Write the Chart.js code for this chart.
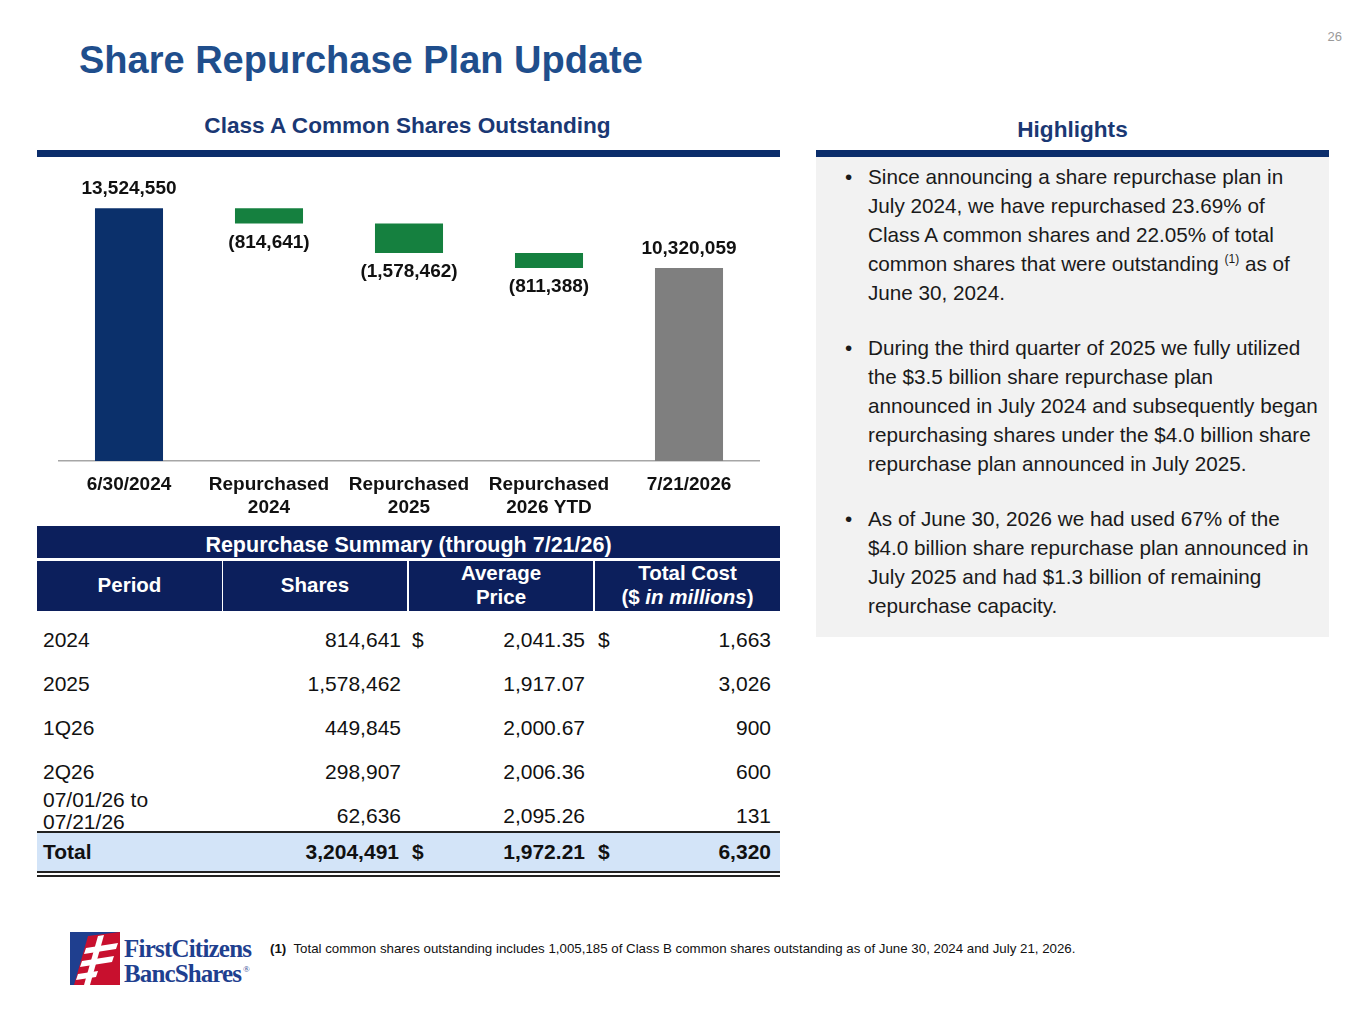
<!DOCTYPE html>
<html>
<head>
<meta charset="utf-8">
<script src="https://cdn.jsdelivr.net/npm/chart.js@4.4.1/dist/chart.umd.min.js"></script>
<style>
  body { margin: 0; background: #fff; font-family: "Liberation Sans", Arial, sans-serif; }
  #page { position: relative; width: 1365px; height: 1024px; overflow: hidden; background: #fff; }
  .abs { position: absolute; white-space: nowrap; }
  #title { left: 79px; top: 37px; font-size: 38px; font-weight: bold; color: #1f4e8c; line-height: 46px; }
  #pagenum { left: 1318px; top: 29px; width: 24px; text-align: right; font-size: 13px; color: #9a9a9a; }
  .heading { font-size: 22.6px; font-weight: bold; color: #1a3874; text-align: center; line-height: 28px; }
  .rule { height: 7px; background: #0b2d6b; }
  #chartBox { left: 37px; top: 160px; width: 743px; height: 371px; }
  #hlBox { left: 816px; top: 157px; width: 513px; height: 480px; background: #f2f2f2; }
  .bullet { font-size: 20.7px; color: #1a1a1a; line-height: 29px; }
  .bullet sup { font-size: 12px; line-height: 0; vertical-align: baseline; position: relative; top: -8px; }
  .hdr { background: #0c1f5c; color: #fff; font-weight: bold; text-align: center; display: flex; align-items: center; justify-content: center; }
  .cell { font-size: 21px; color: #111; line-height: 22px; }
  #footnote { left: 270px; top: 941px; font-size: 13.3px; color: #111; }
</style>
</head>
<body>
<div id="page">
  <div class="abs" id="title">Share Repurchase Plan Update</div>
  <div class="abs" id="pagenum">26</div>

  <div class="abs heading" style="left:36px; top:112px; width:743px;">Class A Common Shares Outstanding</div>
  <div class="abs rule" style="left:37px; top:150px; width:743px;"></div>
  <div class="abs" id="chartBox"><canvas id="chart"></canvas></div>

  <div class="abs heading" style="left:816px; top:116px; width:513px;">Highlights</div>
  <div class="abs" id="hlBox"></div>
  <div class="abs rule" style="left:816px; top:150px; width:513px;"></div>
  <div id="bullets"></div>

  <div id="table"></div>

  <svg class="abs" style="left:68px; top:928px;" width="190" height="60" viewBox="0 0 190 60">
    <rect x="2" y="4" width="50" height="53" fill="#1f3f8f"/>
    <polygon points="6,57 20,8 52,4 52,57" fill="#c8102e"/>
    <polygon points="18,20 50,15 48,21 16,26" fill="#fff"/>
    <polygon points="14,33 46,28 44,34 12,39" fill="#fff"/>
    <polygon points="10,46 30,43 28,49 8,52" fill="#fff"/>
    <polygon points="30,8 36,7 22,57 16,57" fill="#fff"/>
    <text x="56" y="29" font-family="Liberation Serif, serif" font-size="25" font-weight="bold" fill="#1f3f8f" textLength="128">FirstCitizens</text>
    <text x="56" y="54" font-family="Liberation Serif, serif" font-size="25" font-weight="bold" fill="#1f3f8f" textLength="118">BancShares</text>
    <text x="175" y="44" font-family="Liberation Serif, serif" font-size="9" fill="#1f3f8f">®</text>
  </svg>

  <div class="abs" id="footnote"><b>(1)</b>&nbsp; Total common shares outstanding includes 1,005,185 of Class B common shares outstanding as of June 30, 2024 and July 21, 2026.</div>
</div>

<script>
// chart data
const categories = [["6/30/2024"], ["Repurchased", "2024"], ["Repurchased", "2025"], ["Repurchased", "2026 YTD"], ["7/21/2026"]];
const shareValues = [13524550, -814641, -1578462, -811388, 10320059];
const barKinds = ["total", "change", "change", "change", "total"];
const barColors = ["#0b306b", "#15803f", "#15803f", "#15803f", "#7f7f7f"];

// table data
const periods = ["2024", "2025", "1Q26", "2Q26", "07/01/26 to<br>07/21/26"];
const periodShares = ["814,641", "1,578,462", "449,845", "298,907", "62,636"];
const avgPrices = ["2,041.35", "1,917.07", "2,000.67", "2,006.36", "2,095.26"];
const totalCosts = ["1,663", "3,026", "900", "600", "131"];
const totalRow = ["Total", "3,204,491", "1,972.21", "6,320"];

// highlights text
const highlights = [
  ["Since announcing a share repurchase plan in", "July 2024, we have repurchased 23.69% of", "Class A common shares and 22.05% of total", "common shares that were outstanding <sup>(1)</sup> as of", "June 30, 2024."],
  ["During the third quarter of 2025 we fully utilized", "the $3.5 billion share repurchase plan", "announced in July 2024 and subsequently began", "repurchasing shares under the $4.0 billion share", "repurchase plan announced in July 2025."],
  ["As of June 30, 2026 we had used 67% of the", "$4.0 billion share repurchase plan announced in", "July 2025 and had $1.3 billion of remaining", "repurchase capacity."]
];

// floating bars for the waterfall
let running = 0;
const floatData = shareValues.map((v, i) => {
  if (barKinds[i] === "total") {
    running = v;
    return [0, v];
  }
  const start = running;
  running = running + v;
  return [running, start];
});

function fmt(v) {
  const s = Math.abs(v).toLocaleString("en-US");
  return v < 0 ? "(" + s + ")" : s;
}

const barLabels = {
  id: "barLabels",
  afterDatasetsDraw(chart) {
    const ctx = chart.ctx;
    const meta = chart.getDatasetMeta(0);
    ctx.save();
    ctx.font = "bold 19px 'Liberation Sans', Arial, sans-serif";
    ctx.fillStyle = "#111";
    ctx.textAlign = "center";
    ctx.textBaseline = "middle";
    meta.data.forEach((bar, i) => {
      const top = Math.min(bar.y, bar.base);
      const bottom = Math.max(bar.y, bar.base);
      if (barKinds[i] === "total") {
        ctx.fillText(fmt(shareValues[i]), bar.x, top - 19);
      } else {
        ctx.fillText(fmt(shareValues[i]), bar.x, bottom + 19);
      }
    });
    ctx.restore();
  }
};

const ctx = document.getElementById("chart").getContext("2d");
new Chart(ctx, {
  type: "bar",
  data: {
    labels: categories,
    datasets: [{
      data: floatData,
      backgroundColor: barColors,
      borderWidth: 0,
      borderSkipped: false,
      categoryPercentage: 1,
      barPercentage: 0.486
    }]
  },
  options: {
    responsive: true,
    maintainAspectRatio: false,
    animation: false,
    layout: { padding: { left: 22, right: 21, top: 0, bottom: 0 } },
    plugins: { legend: { display: false }, tooltip: { enabled: false } },
    scales: {
      x: {
        grid: { display: false, drawTicks: false },
        border: { display: true, color: "#a6a6a6", width: 1.5 },
        ticks: {
          color: "#111",
          padding: 12,
          maxRotation: 0,
          autoSkip: false,
          font: { family: "'Liberation Sans', Arial, sans-serif", size: 19, weight: "bold", lineHeight: 1.21 }
        }
      },
      y: { display: false, min: 0, max: 16100000 }
    }
  },
  plugins: [barLabels]
});

// highlights
const bl = document.getElementById("bullets");
let y = 162;
highlights.forEach(par => {
  const d = document.createElement("div");
  d.className = "abs bullet";
  d.style.left = "845px";
  d.style.top = y + "px";
  d.innerHTML = "<span style='position:absolute;left:0'>&bull;</span><div style='margin-left:23px'>" + par.join("<br>") + "</div>";
  bl.appendChild(d);
  y += par.length * 29 + 26;
});

// table
const tb = document.getElementById("table");
function add(html, style, cls) {
  const d = document.createElement("div");
  d.className = "abs " + (cls || "");
  d.style.cssText = style;
  d.innerHTML = html;
  tb.appendChild(d);
  return d;
}
add("<div>Repurchase Summary (through 7/21/26)</div>", "left:37px;top:526px;width:743px;height:32px;font-size:21.5px;padding-top:7px;box-sizing:border-box;", "hdr");
const hdrCols = [[37, 185, "Period"], [223, 184, "Shares"], [409, 184, "Average<br>Price"], [595, 185, "Total Cost<br>($ <i>in millions</i>)"]];
hdrCols.forEach(c => add("<div>" + c[2] + "</div>", "left:" + c[0] + "px;top:561px;width:" + c[1] + "px;height:50px;font-size:20.5px;line-height:24px;padding-bottom:3px;box-sizing:border-box;", "hdr"));

const rowY = [640, 684, 728, 772, 816];
periods.forEach((p, i) => {
  const cy = rowY[i];
  if (i === 4) {
    add(p, "left:43px;top:" + (789) + "px;line-height:22px;", "cell");
  } else {
    add(p, "left:43px;top:" + (cy - 11) + "px;", "cell");
  }
  add(periodShares[i], "left:250px;width:151px;text-align:right;top:" + (cy - 11) + "px;", "cell");
  add(avgPrices[i], "left:430px;width:155px;text-align:right;top:" + (cy - 11) + "px;", "cell");
  add(totalCosts[i], "left:620px;width:151px;text-align:right;top:" + (cy - 11) + "px;", "cell");
  if (i === 0) {
    add("$", "left:412px;top:" + (cy - 11) + "px;", "cell");
    add("$", "left:598px;top:" + (cy - 11) + "px;", "cell");
  }
});
add("", "left:37px;top:831px;width:743px;height:41px;background:#d3e4f8;border-top:2px solid #222;box-sizing:border-box;");
add("", "left:37px;top:871px;width:743px;height:2px;background:#222;");
add("", "left:37px;top:875px;width:743px;height:2px;background:#222;");
add(totalRow[0], "left:43px;top:841px;font-weight:bold;", "cell");
add(totalRow[1], "left:250px;width:149px;text-align:right;top:841px;font-weight:bold;", "cell");
add("$", "left:412px;top:841px;font-weight:bold;", "cell");
add(totalRow[2], "left:430px;width:155px;text-align:right;top:841px;font-weight:bold;", "cell");
add("$", "left:598px;top:841px;font-weight:bold;", "cell");
add(totalRow[3], "left:620px;width:151px;text-align:right;top:841px;font-weight:bold;", "cell");
</script>
</body>
</html>
